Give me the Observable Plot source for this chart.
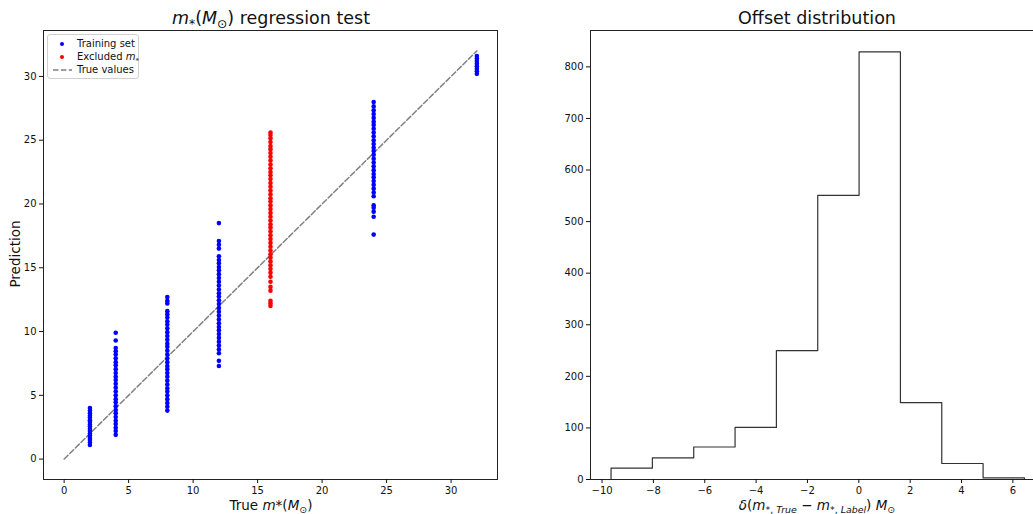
<!DOCTYPE html>
<html><head><meta charset="utf-8">
<script src="https://cdn.jsdelivr.net/npm/d3@7"></script>
<script src="https://cdn.jsdelivr.net/npm/@observablehq/plot@0.6"></script>
<style>
body{margin:0;background:#fff;font-family:"DejaVu Sans",sans-serif;}
#wrap{position:relative;width:1033px;height:514px;overflow:hidden;background:#fff;}
.abs{position:absolute;white-space:nowrap;color:#111;line-height:1;}
.abs sub{font-size:0.7em;vertical-align:-0.3em;line-height:0;}
.legend{position:absolute;left:47px;top:34px;width:90px;height:43px;border:1px solid #d0d0d0;border-radius:3px;background:rgba(255,255,255,0.8);font-size:10px;color:#111;}
.legend .row{position:absolute;left:0;height:12px;white-space:nowrap;}
.legend .dot{position:absolute;width:4px;height:4px;border-radius:50%;left:12px;top:4px;}
.legend .lbl{position:absolute;left:29px;top:0;}
</style></head><body><div id="wrap"></div>
<script>
// ---------- Data: regression test ----------
const trueValues = [2, 4, 8, 12, 16, 24, 32];
const excludedValue = 16;
const pred2  = [1.1, 1.3, 1.5, 1.65, 1.85, 2.0, 2.2, 2.35, 2.55, 2.7, 2.9, 3.05, 3.25, 3.4, 3.6, 3.8, 4.0];
const pred4  = [1.9, 2.2, 2.45, 2.75, 3.0, 3.3, 3.6, 3.85, 4.15, 4.45, 4.7, 5.0, 5.3, 5.6, 5.9, 6.2, 6.45, 6.75, 7.05, 7.35, 7.6, 7.9, 8.2, 8.45, 8.7, 9.3, 9.9];
const pred8  = [3.8, 4.1, 4.4, 4.7, 5.0, 5.3, 5.55, 5.85, 6.15, 6.45, 6.75, 7.05, 7.3, 7.6, 7.9, 8.2, 8.5, 8.8, 9.05, 9.35, 9.65, 9.95, 10.25, 10.55, 10.8, 11.1, 11.35, 11.6, 12.2, 12.4, 12.7];
const pred12 = [7.3, 7.7, 8.3, 8.6, 8.9, 9.2, 9.5, 9.8, 10.1, 10.35, 10.65, 10.95, 11.25, 11.55, 11.85, 12.15, 12.45, 12.75, 13.0, 13.3, 13.6, 13.9, 14.2, 14.5, 14.8, 15.05, 15.35, 15.6, 15.9, 16.5, 16.8, 17.1, 18.5];
const pred16 = [12.0, 12.2, 12.4, 13.2, 13.5, 13.9, 14.3, 14.6, 14.9, 15.2, 15.5, 15.8, 16.05, 16.35, 16.65, 16.95, 17.25, 17.55, 17.85, 18.15, 18.4, 18.7, 19.0, 19.3, 19.6, 19.9, 20.2, 20.45, 20.75, 21.05, 21.35, 21.65, 21.95, 22.25, 22.5, 22.8, 23.1, 23.4, 23.7, 24.0, 24.3, 24.55, 24.85, 25.15, 25.4, 25.6];
const pred24 = [17.6, 19.0, 19.4, 19.7, 19.9, 20.6, 20.9, 21.2, 21.5, 21.8, 22.1, 22.35, 22.65, 22.95, 23.25, 23.55, 23.85, 24.15, 24.4, 24.7, 25.0, 25.3, 25.6, 25.9, 26.2, 26.45, 26.75, 27.05, 27.35, 27.65, 28.0];
const pred32 = [30.2, 30.4, 30.6, 30.8, 31.0, 31.2, 31.4, 31.6];
const predictions = [pred2, pred4, pred8, pred12, pred16, pred24, pred32];
const diagX = [0, 32];
const diagY = [0, 32];
const leftXTicks = [0, 5, 10, 15, 20, 25, 30];
const leftYTicks = [0, 5, 10, 15, 20, 25, 30];

// ---------- Data: offset histogram ----------
const binEdges = [-9.65, -8.04, -6.43, -4.82, -3.21, -1.6, 0.01, 1.62, 3.23, 4.84, 6.45];
const binCounts = [22, 42, 63, 101, 250, 551, 829, 149, 31, 3];
const rightXTicks = [-10, -8, -6, -4, -2, 0, 2, 4, 6];
const rightYTicks = [0, 100, 200, 300, 400, 500, 600, 700, 800];

// ---------- Build tables ----------
const points = [];
trueValues.forEach((t, i) => predictions[i].forEach(p => points.push({t, p, excluded: t === excludedValue})));
const diag = diagX.map((x, i) => ({x, y: diagY[i]}));
const steps = [{x: binEdges[0], y: 0}];
binCounts.forEach((c, i) => steps.push({x: binEdges[i], y: c}));
steps.push({x: binEdges[binEdges.length - 1], y: 0});

const wrap = document.getElementById("wrap");
const baseStyle = {fontFamily: "DejaVu Sans, sans-serif", fontSize: "10px", color: "#111", background: "transparent", overflow: "visible"};

const left = Plot.plot({
  width: 520, height: 514,
  marginLeft: 43, marginRight: 23, marginTop: 30, marginBottom: 35,
  style: baseStyle,
  x: {domain: [-1.6, 33.6]},
  y: {domain: [-1.6, 33.6]},
  marks: [
    Plot.line(diag, {x: "x", y: "y", stroke: "#808080", strokeWidth: 1.5, strokeDasharray: "5.5,2.4"}),
    Plot.dot(points, {x: "t", y: "p", r: 2.3, fill: d => d.excluded ? "#ff0000" : "#0000ff", stroke: "none"}),
    Plot.frame({stroke: "#222", strokeWidth: 1}),
    Plot.axisX({ticks: leftXTicks, tickSize: 4, tickPadding: 3, label: null, tickFormat: d3.format("d")}),
    Plot.axisY({ticks: leftYTicks, tickSize: 4, tickPadding: 3, label: null, tickFormat: d3.format("d")})
  ]
});
left.style.position = "absolute"; left.style.left = "0px"; left.style.top = "0px";
wrap.appendChild(left);

const right = Plot.plot({
  width: 520, height: 514,
  marginLeft: 50, marginRight: 15, marginTop: 30, marginBottom: 35,
  style: baseStyle,
  x: {domain: [-10.45, 7.27]},
  y: {domain: [0, 870.5]},
  marks: [
    Plot.line(steps, {x: "x", y: "y", curve: "step-after", stroke: "#333", strokeWidth: 1.2}),
    Plot.frame({stroke: "#222", strokeWidth: 1}),
    Plot.axisX({ticks: rightXTicks, tickSize: 4, tickPadding: 3, label: null}),
    Plot.axisY({ticks: rightYTicks, tickSize: 4, tickPadding: 3, label: null, tickFormat: d3.format("d")})
  ]
});
right.style.position = "absolute"; right.style.left = "540px"; right.style.top = "0px";
wrap.appendChild(right);

function addText(html, x, y, size, rotate) {
  const d = document.createElement("div");
  d.className = "abs";
  d.innerHTML = html;
  d.style.fontSize = size + "px";
  d.style.left = x + "px"; d.style.top = y + "px";
  d.style.transform = "translate(-50%,-50%)" + (rotate ? " rotate(-90deg)" : "");
  wrap.appendChild(d);
}
addText('<i>m</i><sub>*</sub>(<i>M</i><sub>⊙</sub>) regression test', 271, 19, 17.5);
addText('Offset distribution', 817, 19, 17.5);
addText('True <i>m</i>*(<i>M</i><sub>⊙</sub>)', 271, 506, 13.5);
addText('<i>δ</i>(<i>m</i><sub>*, <i>True</i></sub> − <i>m</i><sub>*, <i>Label</i></sub>) <i>M</i><sub>⊙</sub>', 817, 506, 13.5);
addText('Prediction', 16, 254, 13.5, true);

// Legend
const lg = document.createElement("div");
lg.className = "legend";
lg.innerHTML =
  '<div class="row" style="top:3px;width:90px"><span class="dot" style="background:#0000ff"></span><span class="lbl">Training set</span></div>' +
  '<div class="row" style="top:16px;width:90px"><span class="dot" style="background:#ff0000"></span><span class="lbl">Excluded <i>m</i><sub style="font-size:0.7em">*</sub></span></div>' +
  '<div class="row" style="top:29px;width:90px"><svg width="24" height="12" style="position:absolute;left:4px;top:0"><line x1="1" y1="6" x2="20" y2="6" stroke="#808080" stroke-width="1.5" stroke-dasharray="5.5,2.4"/></svg><span class="lbl">True values</span></div>';
wrap.appendChild(lg);
</script>
</body></html>
